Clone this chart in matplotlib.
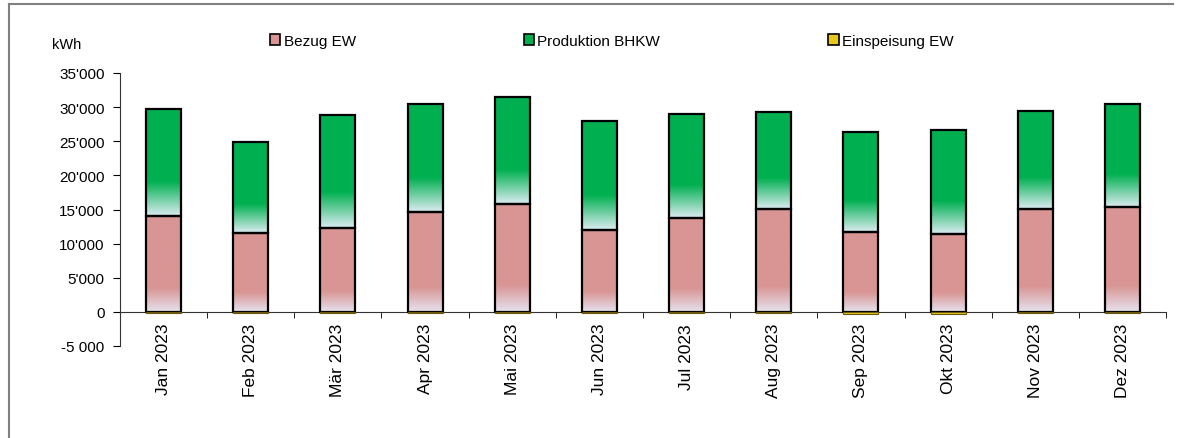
import numpy as np
import matplotlib.pyplot as plt
from matplotlib.colors import LinearSegmentedColormap
from matplotlib.patches import Patch
from matplotlib.lines import Line2D

plt.rcParams['font.family'] = ['Liberation Sans', 'DejaVu Sans']

# data (kWh)
months = ['Jan 2023', 'Feb 2023', 'Mär 2023', 'Apr 2023', 'Mai 2023', 'Jun 2023',
          'Jul 2023', 'Aug 2023', 'Sep 2023', 'Okt 2023', 'Nov 2023', 'Dez 2023']
bezug = [14000, 11550, 12300, 14600, 15800, 12000, 13750, 15050, 11700, 11400, 15050, 15350]
produktion = [15700, 13300, 16500, 15800, 15650, 15900, 15200, 14200, 14600, 15200, 14450, 15050]
einspeisung = [-120, -100, -100, -120, -100, -100, -100, -120, -380, -380, -120, -120]

yticks = [-5000, 0, 5000, 10000, 15000, 20000, 25000, 30000, 35000]
ylabels = ['-5 000', '0', "5'000", "10'000", "15'000", "20'000", "25'000", "30'000", "35'000"]

pink = '#d99594'
green = '#00b050'
yellow = '#e8c81a'

cm_pink = LinearSegmentedColormap.from_list('p', [(0, '#e6e2ef'), (0.25, pink), (1, pink)])
cm_green = LinearSegmentedColormap.from_list('g', [(0, '#dcecf2'), (0.32, green), (1, green)])

fig = plt.figure(figsize=(11.82, 4.39), dpi=100)
ax = fig.add_axes([120/1182, 92/439, 1046/1182, 273/439])

x = np.arange(len(months))
w = 0.4
grad = np.linspace(0, 1, 256).reshape(-1, 1)

def gradient_bars(bottoms, heights, cmap):
    bars = ax.bar(x, heights, w, bottom=bottoms, facecolor='none',
                  edgecolor='black', linewidth=1.6, zorder=3)
    for b, xi, bo, h in zip(bars, x, bottoms, heights):
        im = ax.imshow(grad, cmap=cmap, origin='lower', aspect='auto',
                       extent=[xi - w/2, xi + w/2, bo, bo + h], zorder=2)
        im.set_clip_path(b)
    return bars

gradient_bars(np.zeros(12), bezug, cm_pink)
gradient_bars(np.array(bezug), produktion, cm_green)
ax.bar(x, einspeisung, w, color=yellow, edgecolor='#6b5a10', linewidth=0.8, zorder=4)

ax.set_xlim(-0.5, 11.5)
ax.set_ylim(-5000, 35000)
ax.set_yticks(yticks)
ax.set_yticklabels(ylabels)
ax.set_xticks(x)
ax.set_xticklabels(months)
ax.set_xticks(np.arange(0.5, 12, 1), minor=True)
ax.tick_params(axis='x', which='major', length=0, pad=8, labelrotation=90, labelsize=12.5)
ax.tick_params(axis='x', which='minor', length=4, direction='out')
ax.tick_params(axis='y', length=5, direction='out', pad=6, labelsize=11)

for s in ['top', 'right']:
    ax.spines[s].set_visible(False)
ax.spines['bottom'].set_position(('data', 0))
ax.spines['left'].set_color('#333333')
ax.spines['bottom'].set_color('#333333')

fig.text(52/1182, 1 - 45/439, 'kWh', fontsize=10.5, va='center', ha='left')

handles = [Patch(facecolor=pink, edgecolor='black', linewidth=1.2),
           Patch(facecolor=green, edgecolor='black', linewidth=1.2),
           Patch(facecolor=yellow, edgecolor='black', linewidth=1.2)]
fig.legend(handles, ['Bezug EW', 'Produktion BHKW', 'Einspeisung EW'], ncol=3,
           loc='center left', bbox_to_anchor=(256/1182, 1 - 42/439), frameon=False,
           fontsize=11, handlelength=0.7, handleheight=0.7, handletextpad=0.2,
           columnspacing=11)

# outer frame (top and left edge only visible)
fig.add_artist(Line2D([9/1182, 1173/1182], [1 - 5/439, 1 - 5/439], transform=fig.transFigure,
                      color='#808080', linewidth=1.5))
fig.add_artist(Line2D([9/1182, 9/1182], [0, 1 - 5/439], transform=fig.transFigure,
                      color='#808080', linewidth=1.5))

fig.savefig('out.png', dpi=100)
